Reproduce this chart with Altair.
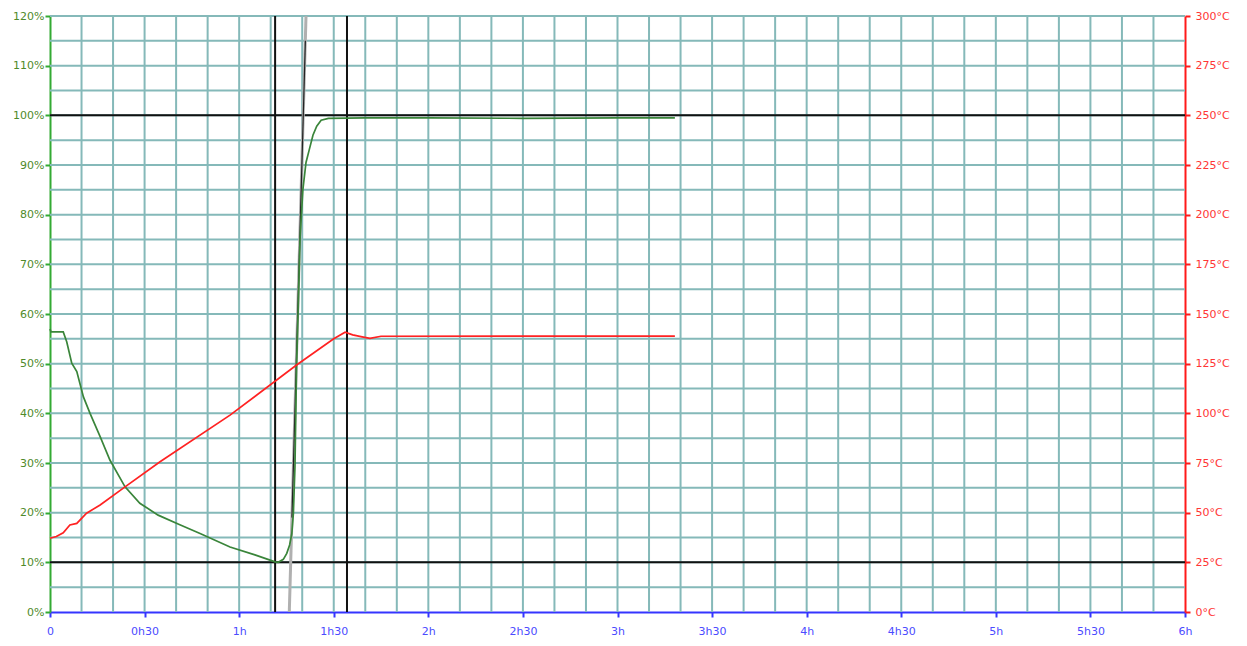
import altair as alt
import pandas as pd

# ---- data ----
pct_minutes = [0, 0.3, 4.2, 5.3, 6.9, 8.5, 10.6, 12.7, 15.9, 19, 23.8, 28.5, 34.3, 41, 47.6,
               57.1, 65, 71.4, 72.4, 74, 75.1, 76.0, 76.7, 77.2, 77.7, 78.2, 78.8, 79.3, 80.2,
               81.2, 82.2, 83.4, 84.6, 86, 88.3, 100, 120, 150, 180, 198.2]
pct_values = [57.0, 56.4, 56.4, 54.4, 50.1, 48.4, 43.3, 40.0, 35.3, 30.6, 25.2, 21.9, 19.5, 17.6, 15.8,
              13.1, 11.5, 10.1, 10.0, 10.6, 11.8, 13.5, 15.8, 19.9, 29.3, 49.4, 62.8, 75.0, 85.0,
              90.5, 93.0, 96.0, 97.8, 99.0, 99.4, 99.5, 99.5, 99.4, 99.5, 99.5]

temp_minutes = [0, 2, 4.2, 6.3, 8.5, 11.6, 15.9, 23.8, 34.9, 57.1, 78.2, 90, 93.6, 96, 99, 101.5, 105, 198.2]
temp_values = [37.1, 38.0, 39.9, 43.8, 44.6, 49.7, 53.9, 63.0, 75.6, 99.1, 124.3, 137.5, 140.8, 139.5,
               138.5, 137.7, 138.8, 138.9]

tangent_minutes = [75.9, 81.2]
tangent_pct = [0, 120]
tangent_core_minutes = [76.74, 81.0]
tangent_core_pct = [19, 115]

ref_pct = [10, 100]
ref_minutes = [71.4, 94.2]

grid_minutes = list(range(10, 360, 10))
grid_pct = list(range(5, 121, 5))
x_ticks = list(range(0, 361, 30))
pct_ticks = list(range(0, 121, 10))
temp_ticks = list(range(0, 301, 25))

FONT = "DejaVu Sans"
GRID = "#85b9b9"

xs = alt.Scale(domain=[0, 360], nice=False, zero=False)
ys = alt.Scale(domain=[0, 120], nice=False)
ts = alt.Scale(domain=[0, 300], nice=False)

xaxis = alt.Axis(values=x_ticks, title=None, grid=False, labelFlush=False,
                 labelExpr="datum.value == 0 ? '0' : (floor(datum.value/60) + 'h' + (datum.value % 60 == 30 ? '30' : ''))",
                 domainColor="#3535ff", domainWidth=2, tickColor="#3535ff", tickSize=5, tickWidth=2,
                 labelColor="#4b4bff", labelFont=FONT, labelFontSize=11, labelPadding=8)
yaxis = alt.Axis(values=pct_ticks, title=None, grid=False, labelFlush=False, labelExpr="datum.value + '%'",
                 domainColor="#33aa33", domainWidth=2, tickColor="#33aa33",
                 tickSize=5, tickWidth=2, labelColor="#4f8a2a",
                 labelFont=FONT, labelFontSize=11, labelPadding=1)
taxis = alt.Axis(values=temp_ticks, orient="right", title=None, grid=False, labelFlush=False,
                 labelExpr="datum.value + '°C'",
                 domainColor="#ff1a1a", domainWidth=2, tickColor="#ff1a1a",
                 tickSize=5, tickWidth=2, labelColor="#ff3535",
                 labelFont=FONT, labelFontSize=11, labelPadding=5)

X = lambda f: alt.X(f, scale=xs, axis=xaxis)
Y = lambda f: alt.Y(f, scale=ys, axis=yaxis)

df_pct = pd.DataFrame({"t": pct_minutes, "v": pct_values})
df_temp = pd.DataFrame({"t": temp_minutes, "v": temp_values})
df_tan = pd.DataFrame({"t": tangent_minutes, "v": tangent_pct})
df_tanc = pd.DataFrame({"t": tangent_core_minutes, "v": tangent_core_pct})

vgrid = alt.Chart(pd.DataFrame({"t": grid_minutes})).mark_rule(color=GRID, strokeWidth=2).encode(x=X("t:Q"))
hgrid = alt.Chart(pd.DataFrame({"p": grid_pct})).mark_rule(color=GRID, strokeWidth=2).encode(y=Y("p:Q"))
href = alt.Chart(pd.DataFrame({"p": ref_pct})).mark_rule(color="#111111", strokeWidth=2).encode(y=Y("p:Q"))
vref = alt.Chart(pd.DataFrame({"t": ref_minutes})).mark_rule(color="#111111", strokeWidth=2).encode(x=X("t:Q"))
tan = alt.Chart(df_tan).mark_line(color="#b0b0b0", strokeWidth=3, clip=True).encode(x=X("t:Q"), y=Y("v:Q"))
tanc = alt.Chart(df_tanc).mark_line(color="#222222", strokeWidth=1.2, clip=True).encode(x=X("t:Q"), y=Y("v:Q"))
green = alt.Chart(df_pct).mark_line(color="#3a853a", strokeWidth=1.7).encode(x=X("t:Q"), y=Y("v:Q"))

red = alt.Chart(df_temp).mark_line(color="#ff2222", strokeWidth=1.7).encode(
    x=X("t:Q"), y=alt.Y("v:Q", scale=ts, axis=taxis))

left = alt.layer(vgrid, hgrid, href, vref, tan, tanc, green)
chart = alt.layer(left, red).resolve_scale(y="independent").properties(
    width=1135, height=596,
    padding={"left": 42, "top": 8, "right": 54, "bottom": 28},
    autosize=alt.AutoSizeParams(type="none"),
).configure_view(stroke=None)

chart.save("out.html", embed_options={"renderer": "svg", "actions": False})
